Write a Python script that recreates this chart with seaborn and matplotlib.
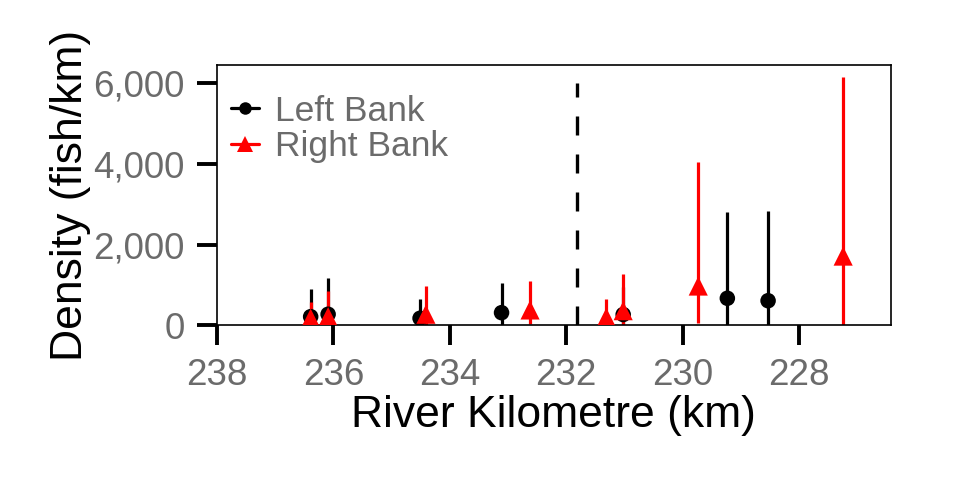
import matplotlib
matplotlib.use("Agg")
import matplotlib.pyplot as plt
from matplotlib.lines import Line2D
from matplotlib.ticker import FuncFormatter
import seaborn as sns
import pandas as pd

# ---- data ----
left_km = [236.39, 236.09, 234.51, 233.11, 231.02, 229.23, 228.53]
left_density = [217, 277, 178, 316, 270, 672, 612]
left_lower = [0, 0, 0, 0, 0, 0, 0]
left_upper = [900, 1165, 647, 1040, 950, 2810, 2827]

right_km = [236.39, 236.09, 234.41, 232.62, 231.31, 231.02, 229.73, 227.24]
right_density = [180, 217, 277, 383, 200, 365, 975, 1716]
right_lower = [0, 0, 0, 40, 0, 0, 60, 0]
right_upper = [590, 850, 975, 1105, 647, 1264, 4045, 6160]

divider_km = 231.81
divider_top = 6000
x_ticks = [238, 236, 234, 232, 230, 228]
y_ticks = [0, 2000, 4000, 6000]
series_names = ["Left Bank", "Right Bank"]

df = pd.concat([
    pd.DataFrame({"km": left_km, "density": left_density, "lo": left_lower,
                  "hi": left_upper, "bank": series_names[0]}),
    pd.DataFrame({"km": right_km, "density": right_density, "lo": right_lower,
                  "hi": right_upper, "bank": series_names[1]}),
], ignore_index=True)

sns.set_theme(style="white")
plt.rcParams['font.family'] = ['Liberation Sans', 'DejaVu Sans']

colors = {"Left Bank": "black", "Right Bank": "#ff0000"}
markers = {"Left Bank": "o", "Right Bank": "^"}

fig = plt.figure(figsize=(9.6, 4.8), dpi=100)
ax = fig.add_axes([0.226, 0.322, 0.702, 0.543])

for bank in series_names:
    sub = df[df["bank"] == bank]
    ax.vlines(sub["km"], sub["lo"], sub["hi"], color=colors[bank], lw=2.3, zorder=2)
    sns.scatterplot(data=sub, x="km", y="density", ax=ax, color=colors[bank],
                    marker=markers[bank], s=125 if bank == "Left Bank" else 190,
                    edgecolor="none", linewidth=0, zorder=3, legend=False)

ax.vlines([divider_km], 0, divider_top, color="black", lw=2.4,
          linestyles=[(0, (5.7, 5.7))], zorder=1)

ax.set_xlim(238.0, 226.42)
ax.set_ylim(0, 6450)
ax.set_xticks(x_ticks)
ax.set_yticks(y_ticks)
ax.yaxis.set_major_formatter(FuncFormatter(lambda v, p: f"{int(v):,}"))

for s in ax.spines.values():
    s.set_linewidth(1.2)
    s.set_color("black")
ax.tick_params(axis="both", which="major", direction="out", length=14.2, width=2.8,
               color="black", labelcolor="#6b6b6b", labelsize=26.5, pad=9,
               bottom=True, left=True)
ax.set_xlabel("River Kilometre (km)", fontsize=32, color="black", labelpad=2)
ax.set_ylabel("Density (fish/km)", fontsize=32, color="black", labelpad=2)

handles = [Line2D([], [], color=colors[b], marker=markers[b], lw=2.3,
                  markersize=9 if b == "Left Bank" else 12, markeredgewidth=0)
           for b in series_names]
leg = ax.legend(handles, series_names, loc="upper left", frameon=False,
                fontsize=25.5, handlelength=0.8, handletextpad=0.45,
                labelspacing=0.08, borderaxespad=0.0, bbox_to_anchor=(0.0, 0.94))
for t in leg.get_texts():
    t.set_color("#6b6b6b")

fig.savefig("out.png", dpi=100, facecolor="white")
